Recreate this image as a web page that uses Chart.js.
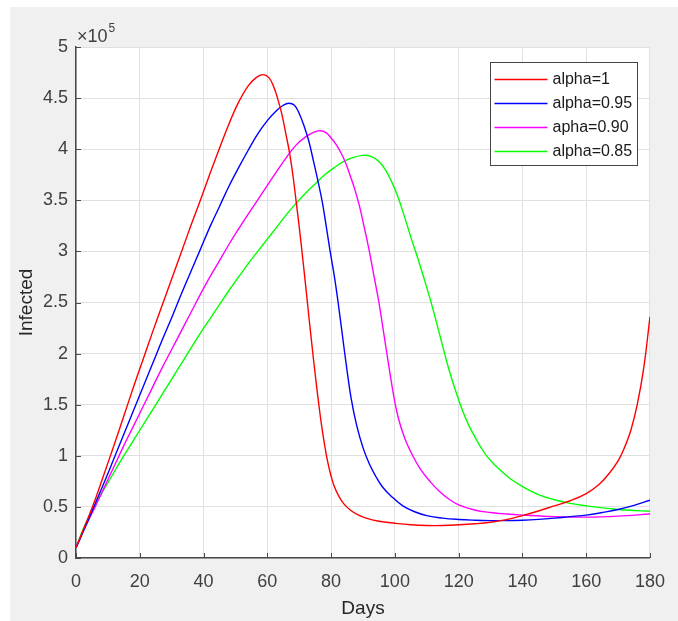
<!DOCTYPE html>
<html>
<head>
<meta charset="utf-8">
<script src="https://cdn.jsdelivr.net/npm/chart.js@4.4.0/dist/chart.umd.min.js"></script>
<style>
  html, body { margin: 0; padding: 0; background: #fff; }
</style>
</head>
<body>
<canvas id="infected" width="678" height="621"></canvas>
<script>
// Infected cases (x 10^5) against days, one curve per fractional order alpha
const seriesLabels = ['alpha=1', 'alpha=0.95', 'apha=0.90', 'alpha=0.85'];
const seriesColors = ['#ff0000', '#0000ff', '#ff00ff', '#00ff00'];

const dayTicks = [0, 20, 40, 60, 80, 100, 120, 140, 160, 180];
const infectedTicks = [0, 0.5, 1, 1.5, 2, 2.5, 3, 3.5, 4, 4.5, 5];

// alpha = 1
const days1 = [0, 3, 6, 9, 12, 15, 18, 21, 24, 27, 30, 33, 36, 39, 42, 45, 48, 51, 54, 56.5, 58.6, 60.5, 62, 63, 64.5, 66, 67, 68, 69, 70, 71, 72, 73, 74, 75, 76, 77, 78, 79, 80, 81, 82.5, 84, 86, 88, 91, 95, 100, 105, 110, 115, 120, 125, 130, 135, 140, 145, 150, 155, 160, 164, 167, 170, 172, 174, 176, 178, 180];
const infected1 = [0.1, 0.33, 0.57, 0.84, 1.11, 1.39, 1.67, 1.94, 2.21, 2.47, 2.73, 2.99, 3.25, 3.5, 3.76, 4.01, 4.25, 4.46, 4.62, 4.70, 4.73, 4.70, 4.61, 4.52, 4.35, 4.12, 3.96, 3.75, 3.5, 3.24, 2.96, 2.67, 2.37, 2.08, 1.8, 1.54, 1.3, 1.1, 0.93, 0.8, 0.7, 0.6, 0.53, 0.47, 0.43, 0.39, 0.36, 0.34, 0.325, 0.318, 0.318, 0.325, 0.335, 0.35, 0.375, 0.415, 0.46, 0.51, 0.56, 0.63, 0.72, 0.82, 0.95, 1.08, 1.25, 1.5, 1.85, 2.36];

// alpha = 0.95
const days2 = [0, 3, 6, 9, 12, 15, 18, 21, 24, 27, 30, 33, 36, 39, 42, 45, 48, 51, 54, 57, 60, 63, 65, 66.7, 68.5, 70, 71.5, 73, 74.5, 76, 77.2, 78.5, 79.7, 81, 82.2, 83.5, 84.8, 86.3, 88, 90, 92, 94, 96, 99, 102.5, 106, 110, 115, 120, 125, 130, 135, 140, 145, 150, 155, 160, 165, 170, 175, 180];
const infected2 = [0.1, 0.31, 0.53, 0.75, 0.98, 1.21, 1.44, 1.67, 1.9, 2.13, 2.35, 2.58, 2.8, 3.02, 3.24, 3.44, 3.64, 3.82, 3.99, 4.15, 4.28, 4.38, 4.43, 4.45, 4.43, 4.35, 4.23, 4.08, 3.88, 3.67, 3.49, 3.24, 3.0, 2.76, 2.5, 2.19, 1.88, 1.56, 1.3, 1.08, 0.92, 0.8, 0.7, 0.6, 0.51, 0.455, 0.415, 0.39, 0.377, 0.37, 0.366, 0.366, 0.37, 0.378, 0.39, 0.405, 0.42, 0.445, 0.475, 0.515, 0.565];

// alpha = 0.90
const days3 = [0, 3, 6, 9, 12, 15, 18, 21, 24, 27, 30, 33, 36, 39, 42, 45, 48, 51, 54, 57, 60, 63, 66, 69, 72, 74.5, 76.6, 78.5, 80, 81.5, 83, 84.5, 86, 87.5, 89, 90.5, 92, 93.5, 95, 96.5, 98, 99.5, 101, 103, 105.6, 108, 111, 114, 117, 120, 125, 130, 135, 140, 150, 160, 170, 180];
const infected3 = [0.1, 0.31, 0.5, 0.7, 0.9, 1.1, 1.29, 1.48, 1.67, 1.86, 2.04, 2.22, 2.4, 2.58, 2.75, 2.91, 3.07, 3.22, 3.365, 3.505, 3.645, 3.785, 3.92, 4.04, 4.12, 4.165, 4.18, 4.16, 4.11, 4.05, 3.97, 3.87, 3.74, 3.6, 3.43, 3.22, 3.0, 2.75, 2.5, 2.2, 1.9, 1.61, 1.38, 1.18, 1.0, 0.87, 0.75, 0.65, 0.575, 0.52, 0.47, 0.445, 0.43, 0.42, 0.405, 0.40, 0.41, 0.43];

// alpha = 0.85
const days4 = [0, 2.5, 5, 8, 11, 14, 17, 20, 23, 26, 29, 32, 35, 38.8, 42, 45, 48, 51, 54, 57, 60, 63, 66, 69, 72, 75, 78, 81, 84, 87, 90, 92.5, 95, 97, 99, 101, 103, 105, 107, 109, 111, 113, 115, 117, 119, 121, 123, 125, 127, 129, 132, 136, 140, 145, 150, 155, 160, 165, 170, 175, 180];
const infected4 = [0.1, 0.3, 0.46, 0.63, 0.79, 0.95, 1.1, 1.25, 1.4, 1.55, 1.7, 1.85, 2.0, 2.19, 2.34, 2.48, 2.62, 2.75, 2.88, 3.0, 3.12, 3.24, 3.36, 3.47, 3.57, 3.66, 3.75, 3.82, 3.88, 3.92, 3.94, 3.93, 3.88, 3.8, 3.68, 3.53, 3.34, 3.14, 2.95, 2.75, 2.54, 2.31, 2.07, 1.84, 1.64, 1.46, 1.31, 1.19, 1.08, 0.99, 0.89, 0.78, 0.7, 0.62, 0.57, 0.535, 0.51, 0.49, 0.475, 0.465, 0.457];

const seriesDays = [days1, days2, days3, days4];
const seriesInfected = [infected1, infected2, infected3, infected4];

const fontFamily = '"Liberation Sans", Arial, Helvetica, sans-serif';
const textColor = '#404040';
const axisColor = '#4a4a4a';
const gridColor = '#e0e0e0';

function toPoints(xs, ys) {
    return xs.map((d, i) => ({x: d, y: ys[i]}));
}

// gray figure panel with a white axes box
const figurePanel = {
    id: 'figurePanel',
    beforeDraw(chart) {
        const {ctx, chartArea: a, width, height} = chart;
        ctx.save();
        ctx.fillStyle = '#ffffff';
        ctx.fillRect(0, 0, width, height);
        ctx.fillStyle = '#f0f0f0';
        ctx.fillRect(10, 7, width - 10, height - 7);
        ctx.fillStyle = '#ffffff';
        ctx.fillRect(a.left, a.top, a.right - a.left, a.bottom - a.top);
        ctx.restore();
    }
};

// inward tick marks, the x10^5 multiplier and the boxed legend
const axesExtras = {
    id: 'axesExtras',
    afterDraw(chart) {
        const {ctx, chartArea: a} = chart;
        const xs = chart.scales.x, ys = chart.scales.y;
        ctx.save();

        ctx.strokeStyle = axisColor;
        ctx.lineWidth = 1;
        ctx.beginPath();
        dayTicks.forEach(d => {
            const px = Math.round(xs.getPixelForValue(d)) + 0.5;
            ctx.moveTo(px, a.bottom);
            ctx.lineTo(px, a.bottom - 5);
        });
        infectedTicks.forEach(v => {
            const py = Math.round(ys.getPixelForValue(v)) + 0.5;
            ctx.moveTo(a.left, py);
            ctx.lineTo(a.left + 5, py);
        });
        ctx.stroke();

        ctx.fillStyle = textColor;
        ctx.textAlign = 'left';
        ctx.textBaseline = 'alphabetic';
        ctx.font = '18px ' + fontFamily;
        ctx.fillText('\u00d710', a.left + 1, a.top - 5);
        const w = ctx.measureText('\u00d710').width;
        ctx.font = '12px ' + fontFamily;
        ctx.fillText('5', a.left + 2 + w, a.top - 15);

        const boxW = 147, boxH = 103;
        const bx = Math.round(a.right - 13 - boxW) + 0.5;
        const by = Math.round(a.top + 15) + 0.5;
        ctx.fillStyle = '#ffffff';
        ctx.fillRect(bx, by, boxW, boxH);
        ctx.strokeStyle = '#444444';
        ctx.lineWidth = 1;
        ctx.strokeRect(bx, by, boxW, boxH);

        ctx.font = '16px ' + fontFamily;
        ctx.textBaseline = 'middle';
        seriesLabels.forEach((label, i) => {
            const ry = by + 17 + i * 24;
            ctx.strokeStyle = seriesColors[i];
            ctx.lineWidth = 1.5;
            ctx.beginPath();
            ctx.moveTo(bx + 4, ry);
            ctx.lineTo(bx + 57, ry);
            ctx.stroke();
            ctx.fillStyle = '#1a1a1a';
            ctx.fillText(label, bx + 62, ry);
        });
        ctx.restore();
    }
};

const ctx = document.getElementById('infected').getContext('2d');

const datasets = seriesLabels.map((label, i) => ({
    label: label,
    data: toPoints(seriesDays[i], seriesInfected[i]),
    borderColor: seriesColors[i],
    borderWidth: 1.4,
    pointRadius: 0,
    fill: false,
    tension: 0.4
}));

const chart = new Chart(ctx, {
    type: 'line',
    data: {datasets: datasets},
    plugins: [figurePanel, axesExtras],
    options: {
        responsive: false,
        animation: false,
        events: [],
        layout: {padding: {left: 10, top: 47, right: 27, bottom: 0}},
        plugins: {
            legend: {display: false},
            tooltip: {enabled: false}
        },
        scales: {
            x: {
                type: 'linear',
                min: 0,
                max: 180,
                afterBuildTicks: scale => { scale.ticks = dayTicks.map(v => ({value: v})); },
                afterFit: scale => { scale.height = 63; },
                grid: {color: gridColor, drawTicks: false},
                border: {display: true, color: axisColor, width: 1.5},
                ticks: {
                    color: textColor,
                    padding: 13,
                    maxRotation: 0,
                    font: {family: fontFamily, size: 18},
                    callback: v => String(v)
                },
                title: {
                    display: true,
                    text: 'Days',
                    color: '#262626',
                    padding: {top: 2, bottom: 1},
                    font: {family: fontFamily, size: 19}
                }
            },
            y: {
                type: 'linear',
                min: 0,
                max: 5,
                afterBuildTicks: scale => { scale.ticks = infectedTicks.map(v => ({value: v})); },
                afterFit: scale => { scale.width = 66; },
                grid: {color: gridColor, drawTicks: false},
                border: {display: true, color: axisColor, width: 1.5},
                ticks: {
                    color: textColor,
                    padding: 8,
                    font: {family: fontFamily, size: 18},
                    callback: v => String(v)
                },
                title: {
                    display: true,
                    text: 'Infected',
                    color: '#262626',
                    padding: {top: 5, bottom: 4},
                    font: {family: fontFamily, size: 19}
                }
            }
        }
    }
});
</script>
</body>
</html>
